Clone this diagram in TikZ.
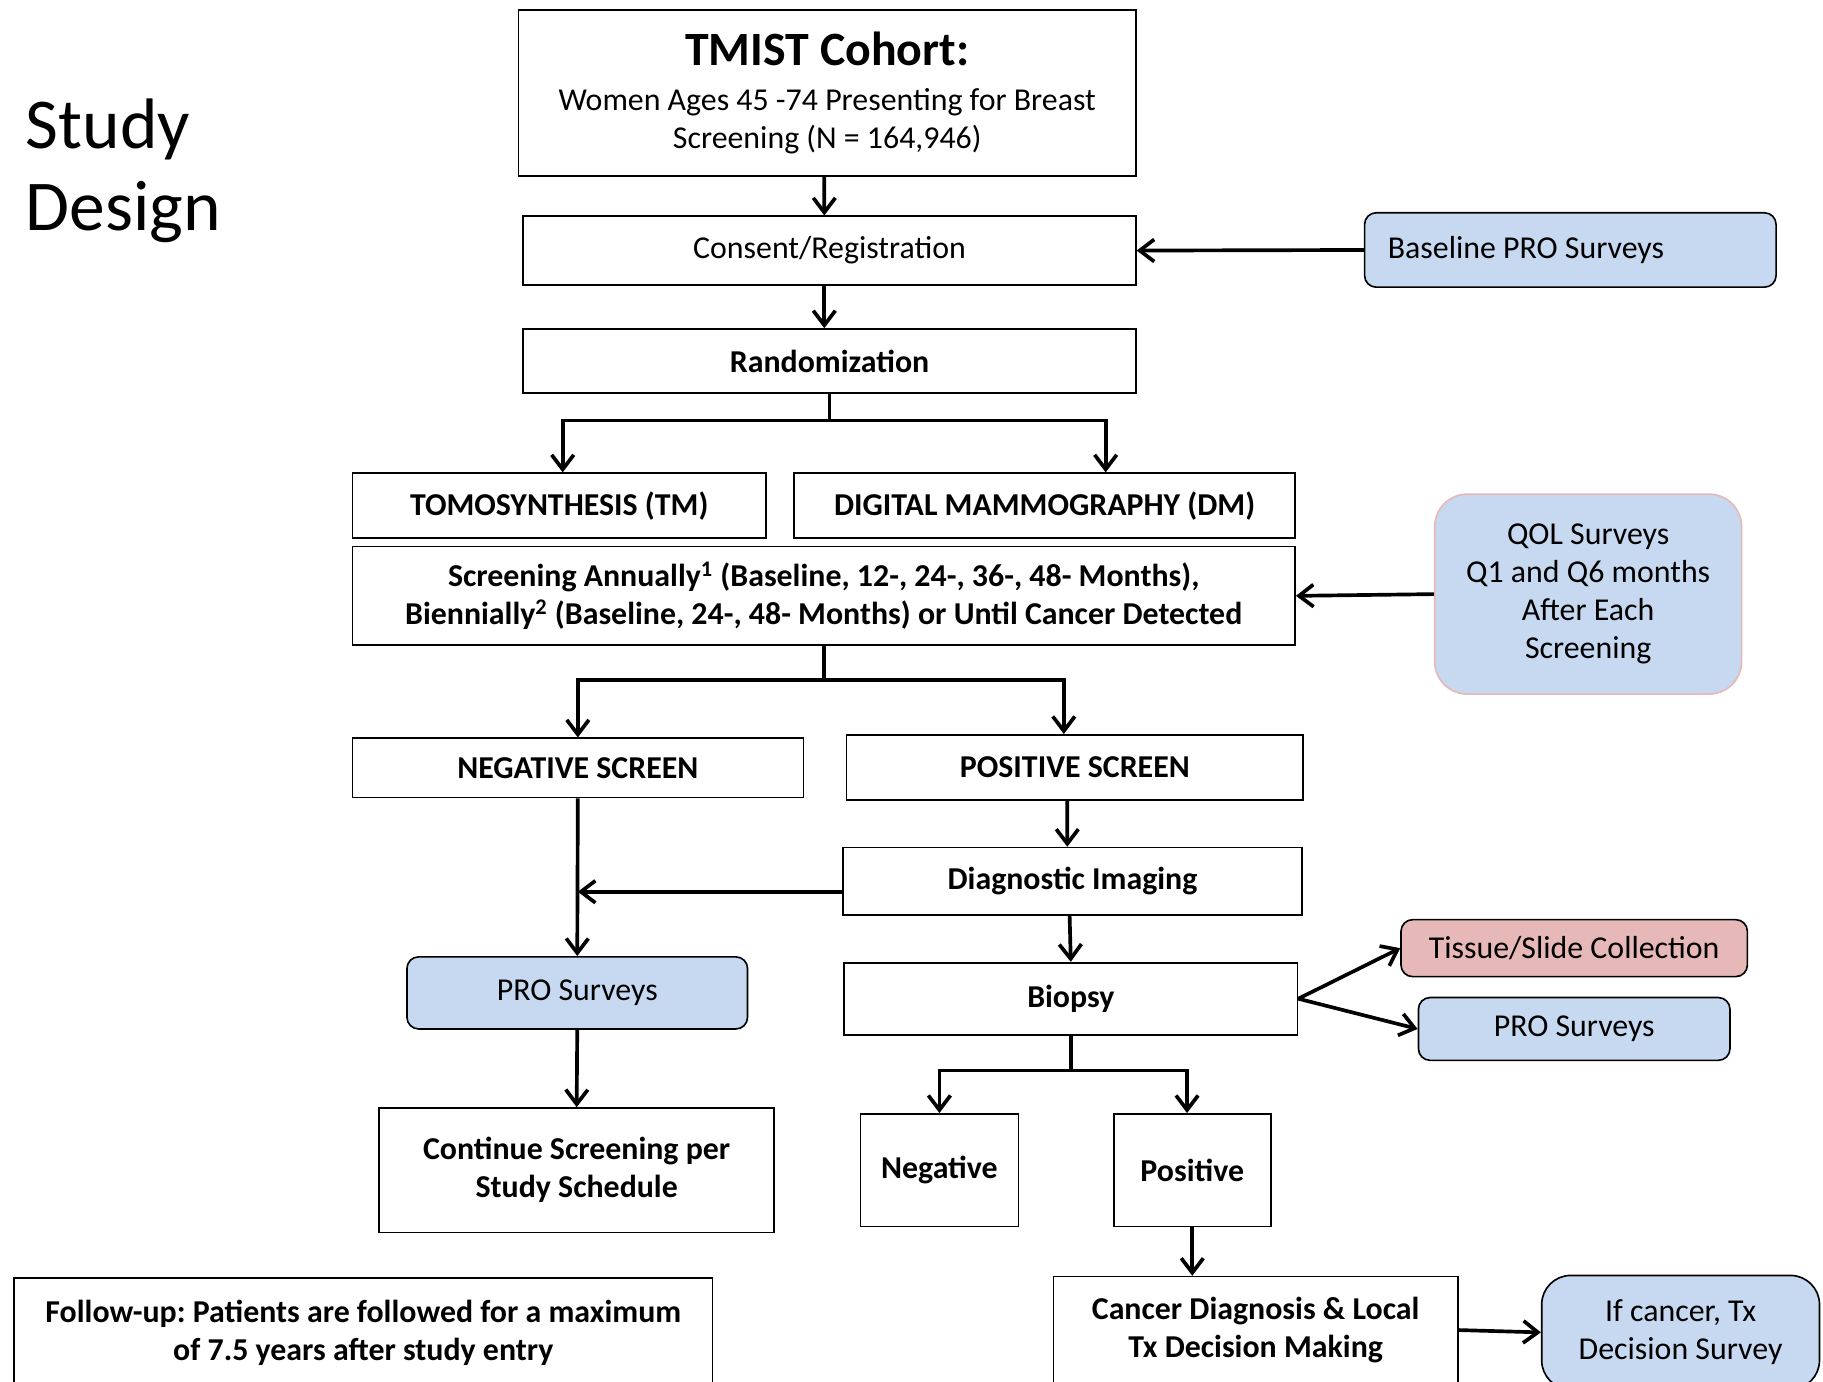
\documentclass[tikz,border=0pt]{standalone}
\usepackage{fontspec}
\setmainfont{Carlito}
\usepackage{tikz}
\usetikzlibrary{arrows.meta,positioning,calc}
\definecolor{surveyblue}{HTML}{C6D9F1}
\definecolor{tissuepink}{HTML}{E6B9B8}
\frenchspacing

\begin{document}
\begin{tikzpicture}[x=0.02cm, y=-0.02cm,
	box/.style={draw, line width=0.8pt, align=center, inner sep=0pt, font=\fontsize{15.6}{18.6}\selectfont},
	boldbox/.style={box, font=\fontsize{15.6}{18.6}\selectfont\bfseries},
	survey/.style={box, fill=surveyblue, rounded corners=0.2cm},
	arr/.style={line width=1.8pt, -{Straight Barb[length=0.25cm, width=0.38cm]}},
	fork/.style={line width=1.8pt}]
	\useasboundingbox (0,0) rectangle (1568,1188);

	\node[align=left, anchor=west, font=\fontsize{35}{40}\selectfont] (title) at (16,147) {Study\\Design};

	\node[box, minimum width=10.62cm, minimum height=2.86cm] (cohort) at (711.5,80)
		{{\fontsize{23.4}{28}\selectfont\bfseries TMIST Cohort:}\\[3pt]Women Ages 45 -74 Presenting for Breast\\Screening (N = 164,946)};
	\node[box, minimum width=10.54cm, minimum height=1.18cm] (consent) at (713.5,215.5) {Consent/Registration};
	\node[survey, anchor=west, minimum width=7.08cm, minimum height=1.28cm] (baseline) at (1173,215) {\makebox[6.28cm][l]{Baseline PRO Surveys}};
	\node[boldbox, minimum width=10.54cm, minimum height=1.10cm] (random) at (713.5,310.5) {Randomization};
	\node[boldbox, minimum width=7.12cm, minimum height=1.12cm] (tomo) at (481,435) {TOMOSYNTHESIS (TM)};
	\node[boldbox, minimum width=8.62cm, minimum height=1.12cm] (digital) at (898.5,435) {DIGITAL MAMMOGRAPHY (DM)};
	\node[boldbox, minimum width=16.22cm, minimum height=1.70cm] (schedule) at (708.5,512.5)
		{Screening Annually\textsuperscript{1} (Baseline, 12-, 24-, 36-, 48- Months),\\Biennially\textsuperscript{2} (Baseline, 24-, 48- Months) or Until Cancer Detected};
	\node[box, fill=surveyblue, draw=tissuepink, rounded corners=0.56cm, minimum width=5.28cm, minimum height=3.44cm] (qol) at (1366,511)
		{QOL Surveys\\Q1 and Q6 months\\After Each\\Screening};

	\node[boldbox, minimum width=7.76cm, minimum height=1.02cm] (negscreen) at (497,660.5) {NEGATIVE SCREEN};
	\node[boldbox, minimum width=7.86cm, minimum height=1.12cm] (posscreen) at (924.5,660) {POSITIVE SCREEN};
	\node[boldbox, minimum width=7.90cm, minimum height=1.16cm] (imaging) at (922.5,758) {Diagnostic Imaging};
	\node[survey, minimum width=5.86cm, minimum height=1.24cm] (prosurv) at (496.5,854) {PRO Surveys};
	\node[boldbox, minimum width=6.80cm, minimum height=2.14cm] (continue) at (496,1006.5) {Continue Screening per\\Study Schedule};
	\node[boldbox, minimum width=7.80cm, minimum height=1.24cm] (biopsy) at (921,859) {Biopsy};
	\node[survey, fill=tissuepink, minimum width=5.96cm, minimum height=0.98cm] (tissue) at (1354,815.5) {Tissue/Slide Collection};
	\node[survey, minimum width=5.36cm, minimum height=1.08cm] (prosurvb) at (1354,885) {PRO Surveys};
	\node[boldbox, minimum width=2.72cm, minimum height=1.94cm] (negative) at (808,1006.5) {Negative};
	\node[boldbox, minimum width=2.70cm, minimum height=1.94cm] (positive) at (1025.5,1006.5) {Positive};
	\node[boldbox, minimum width=6.96cm, minimum height=1.84cm] (cancer) at (1080,1144) {Cancer Diagnosis \& Local\\Tx Decision Making};
	\node[survey, rounded corners=0.5cm, minimum width=4.78cm, minimum height=1.96cm] (ifcancer) at (1445.5,1146) {If cancer, Tx\\Decision Survey};
	\node[boldbox, minimum width=12.02cm, minimum height=1.88cm] (followup) at (312.5,1146) {Follow-up: Patients are followed for a maximum\\of 7.5 years after study entry};

	\draw[arr] ([xshift=-0.05cm]cohort.south) -- ([xshift=-0.09cm]consent.north);
	\draw[arr] (baseline.west) -- (consent.east);
	\draw[arr] ([xshift=-0.09cm]consent.south) -- ([xshift=-0.09cm]random.north);
	\draw[arr] (random.south) -- ++(0,23) -| ([xshift=0.06cm]tomo.north);
	\draw[arr] (random.south) -- ++(0,23) -| ([xshift=1.05cm]digital.north);
	\draw[arr] (qol.west) -- (schedule.east);
	\draw[arr] (schedule.south) -- ++(0,29) -| (negscreen.north);
	\draw[arr] (schedule.south) -- ++(0,29) -| ([xshift=-0.19cm]posscreen.north);
	\draw[arr] ([xshift=-0.13cm]posscreen.south) -- ([xshift=-0.09cm]imaging.north);
	\draw[arr] (negscreen.south) -- (prosurv.north);
	\coordinate (imgout) at ([yshift=-0.18cm]imaging.west);
	\draw[arr] (imgout) -- (imgout -| negscreen.south);
	\draw[arr] (prosurv.south) -- (continue.north);
	\draw[arr] ([xshift=-0.05cm]imaging.south) -- (biopsy.north);
	\draw[arr] (biopsy.east) -- (tissue.west);
	\draw[arr] (biopsy.east) -- (prosurvb.west);
	\draw[arr] (biopsy.south) -- ++(0,30) -| (negative.north);
	\draw[arr] (biopsy.south) -- ++(0,30) -| ([xshift=-0.09cm]positive.north);
	\draw[arr] (positive.south) -- (cancer.north -| positive.south);
	\draw[arr] (cancer.east) -- (ifcancer.west);
\end{tikzpicture}
\end{document}
